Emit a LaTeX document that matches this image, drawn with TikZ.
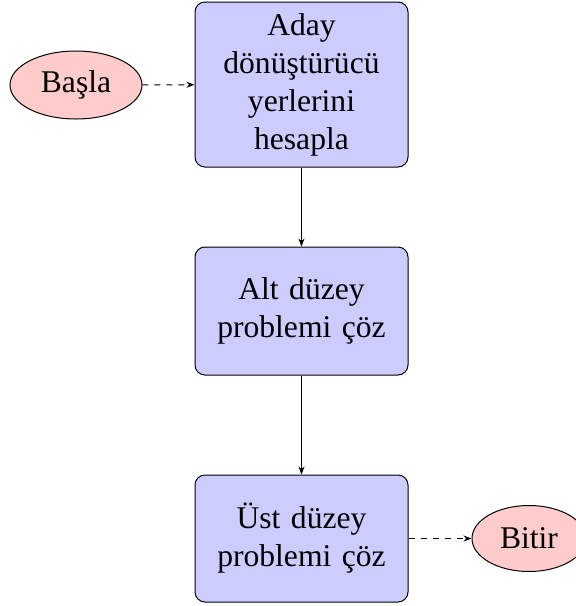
\documentclass[tikz,border=0pt]{standalone}
\usepackage{fontspec}
\setmainfont{Liberation Serif}
\usetikzlibrary{shapes.geometric,arrows.meta}
\begin{document}
\begin{tikzpicture}[x=0.5pt,y=-0.5pt,
  every node/.style={font=\fontsize{15.8}{19}\selectfont},
  procbox/.style={draw=black, line width=0.5pt, fill=blue!20, rounded corners=5pt,
    minimum width=106.5pt, text width=100pt, align=center, inner sep=0pt},
  termin/.style={draw=black, line width=0.5pt, fill=red!20, ellipse, inner sep=0pt},
  flow/.style={draw=black, line width=0.5pt, -{Stealth[length=4pt,width=3pt]}},
  dflow/.style={flow, dashed}]
\useasboundingbox (0,0) rectangle (576,606);
\node[procbox, minimum height=82.5pt] (calc) at (301.5,84.5) {Aday\\dönüştürücü\\yerlerini\\hesapla};
\node[procbox, minimum height=64pt] (lower) at (301.5,311) {Alt düzey\\problemi çöz};
\node[procbox, minimum height=63.5pt] (upper) at (301.5,538.5) {Üst düzey\\problemi çöz};
\node[termin, minimum width=66pt, minimum height=34pt] (start) at (76,85) {Başla};
\node[termin, minimum width=57pt, minimum height=33pt] (stop) at (529,538.5) {Bitir};
\draw[dflow] (start) -- (calc);
\draw[flow] (calc) -- (lower);
\draw[flow] (lower) -- (upper);
\draw[dflow] (upper) -- (stop);
\end{tikzpicture}
\end{document}
